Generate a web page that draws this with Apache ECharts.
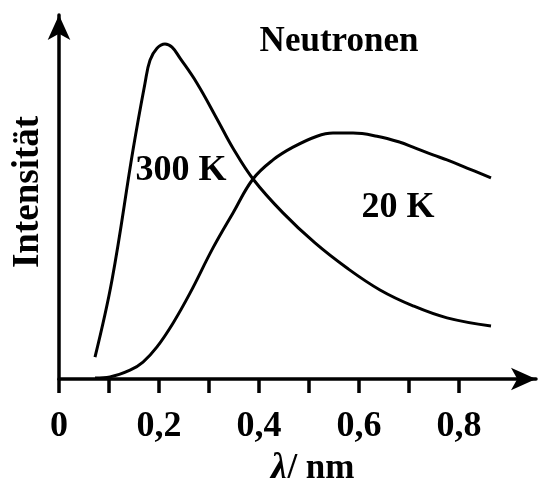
<!DOCTYPE html>
<html>
<head>
<meta charset="utf-8">
<script src="https://cdn.jsdelivr.net/npm/echarts@6/dist/echarts.min.js"></script>
<style>
  html, body { margin: 0; padding: 0; background: #fff; }
  #chart { width: 558px; height: 478px; }
</style>
</head>
<body>
<div id="chart"></div>
<script>
// lambda in nm, intensity in arbitrary units
var lambda300 = [0.072, 0.106, 0.148, 0.172, 0.182, 0.196, 0.212, 0.226, 0.242, 0.276, 0.316, 0.348, 0.388, 0.448, 0.512, 0.576, 0.642, 0.708, 0.776, 0.864];
var int300    = [6.2, 28.0, 64.8, 83.7, 90.2, 93.6, 94.8, 93.9, 90.8, 83.7, 73.6, 65.3, 56.6, 47.0, 38.5, 31.4, 25.2, 20.7, 17.3, 15.0];

var lambda20 = [0.072, 0.102, 0.142, 0.168, 0.196, 0.228, 0.262, 0.308, 0.348, 0.388, 0.428, 0.468, 0.516, 0.548, 0.588, 0.636, 0.682, 0.708, 0.748, 0.776, 0.816, 0.864];
var int20    = [0.3, 0.6, 2.5, 4.8, 9.1, 15.8, 24.3, 37.1, 47.0, 56.6, 62.0, 65.6, 68.7, 69.6, 69.6, 68.7, 67.0, 65.6, 63.4, 62.0, 59.7, 56.9];

var tickValues  = [0, 0.1, 0.2, 0.3, 0.4, 0.5, 0.6, 0.7, 0.8];
var labelValues = [0, 0.2, 0.4, 0.6, 0.8];

function pairs(xs, ys) {
    return xs.map(function (x, i) { return [x, ys[i]]; });
}

var FONT = 'Liberation Serif';

var chart = echarts.init(document.getElementById('chart'));

var option = {
    backgroundColor: '#fff',
    animation: false,
    grid: { left: 59, right: 22, top: 15, bottom: 99, containLabel: false, outerBoundsMode: 'none' },
    xAxis: {
        type: 'value',
        min: 0,
        max: 0.954,
        splitLine: { show: false },
        axisLine: {
            lineStyle: { color: '#000', width: 3.5 },
            symbol: ['none', 'arrow'],
            symbolSize: [17, 25]
        },
        axisTick: {
            show: true,
            inside: false,
            length: 14,
            customValues: tickValues,
            lineStyle: { color: '#000', width: 3.5 }
        },
        axisLabel: {
            customValues: labelValues,
            margin: 30,
            color: '#000',
            fontFamily: FONT,
            fontWeight: 'bold',
            fontSize: 36,
            formatter: function (v) { return String(v).replace('.', ','); }
        },
        name: '{l|λ}{n|/ nm}',
        nameLocation: 'middle',
        nameGap: 70,
        nameTextStyle: {
            padding: [0, 0, 0, 30],
            rich: {
                l: { fontFamily: FONT, fontStyle: 'italic', fontWeight: 'bold', fontSize: 38, color: '#000' },
                n: { fontFamily: FONT, fontWeight: 'bold', fontSize: 35, color: '#000' }
            }
        }
    },
    yAxis: {
        type: 'value',
        min: 0,
        max: 103,
        splitLine: { show: false },
        axisTick: { show: false },
        axisLabel: { show: false },
        axisLine: {
            lineStyle: { color: '#000', width: 3.5 },
            symbol: ['none', 'arrow'],
            symbolSize: [17, 25]
        },
        name: 'Intensität',
        nameLocation: 'middle',
        nameGap: 12,
        nameTextStyle: {
            fontFamily: FONT,
            fontWeight: 'bold',
            fontSize: 37,
            color: '#000',
            padding: [0, 0, 0, 10]
        }
    },
    series: [
        {
            name: '300 K',
            type: 'line',
            data: pairs(lambda300, int300),
            smooth: 0.4,
            showSymbol: false,
            lineStyle: { color: '#000', width: 3 }
        },
        {
            name: '20 K',
            type: 'line',
            data: pairs(lambda20, int20),
            smooth: 0.4,
            showSymbol: false,
            lineStyle: { color: '#000', width: 3 }
        }
    ],
    graphic: [
        { type: 'text', x: 339, y: 41.5, style: { text: 'Neutronen', fill: '#000', font: 'bold 35px "Liberation Serif"', align: 'center', verticalAlign: 'middle' } },
        { type: 'text', x: 181, y: 170.5, style: { text: '300 K', fill: '#000', font: 'bold 36px "Liberation Serif"', align: 'center', verticalAlign: 'middle' } },
        { type: 'text', x: 398, y: 207.5, style: { text: '20 K', fill: '#000', font: 'bold 36px "Liberation Serif"', align: 'center', verticalAlign: 'middle' } }
    ]
};

chart.setOption(option);
</script>
</body>
</html>
